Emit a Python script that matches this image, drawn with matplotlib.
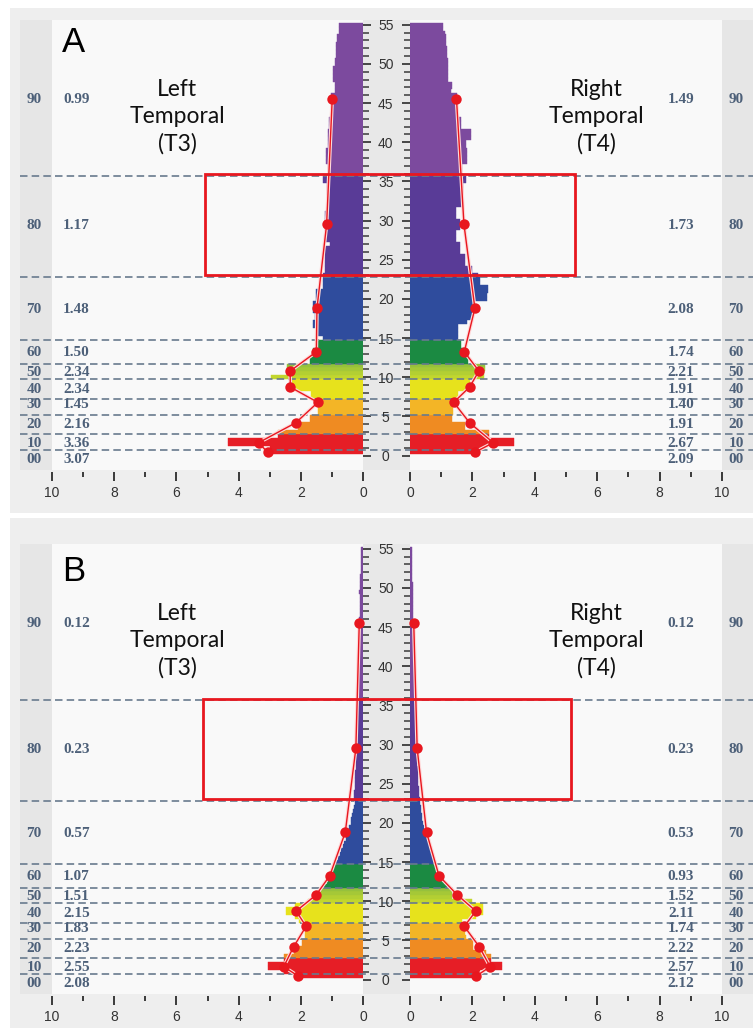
import numpy as np
import matplotlib
matplotlib.use("Agg")
import matplotlib.pyplot as plt
import matplotlib.transforms as mtransforms
import matplotlib.patheffects as pe
from matplotlib.patches import Rectangle
from matplotlib.colors import to_rgb

# 0.5 Hz frequency bins, centres 0.5 .. 55 Hz
freqs = np.arange(0.5, 55.01, 0.5)

bands = ["00", "10", "20", "30", "40", "50", "60", "70", "80", "90"]
band_edges = [0.25, 0.75, 2.75, 5.25, 7.25, 9.75, 11.75, 14.75, 22.75, 35.75, 55.25]
band_colors = ["#e61e26", "#e61e26", "#ef8b22", "#f3b526", "#e7e21c",
               "#b3cc33", "#1b8a42", "#2f4c9d", "#593b97", "#7c4a9e"]
dot_freqs = [0.45, 1.65, 4.2, 6.8, 8.75, 10.8, 13.25, 18.8, 29.5, 45.5]
label_freqs = [-0.5, 1.5, 4.0, 6.5, 8.5, 10.6, 13.1, 18.7, 29.4, 45.4]

# ---- panel A spectra (one value per bin, grouped by band) ----
a_left = [
    3.05,
    3.0, 4.33, 4.33, 2.73,
    2.72, 2.1, 2.1, 1.7, 1.7,
    1.44, 1.44, 1.44, 1.44,
    1.67, 1.67, 2.35, 2.35, 2.35,
    2.96, 2.45, 2.45, 2.45,
    1.7, 1.7, 1.6, 1.6, 1.49, 1.49,
    1.3, 1.49, 1.49, 1.61, 1.61, 1.53, 1.53, 1.62, 1.62, 1.62, 1.5, 1.5, 1.5, 1.29, 1.29, 1.29,
    1.3, 1.23, 1.23, 1.23, 1.23, 1.23, 1.23, 1.23, 1.07, 1.23, 1.23, 1.23, 1.23, 1.23, 1.23, 1.23,
    1.23, 1.14, 1.14, 1.14, 1.14, 1.17, 1.17, 1.17, 1.28, 1.28,
    1.14, 1.14, 1.14, 1.2, 1.2, 1.2, 1.2, 1.14, 1.14, 1.14, 1.14, 1.14, 1.08, 1.08, 1.08,
    1.04, 1.04, 1.04, 1.04, 1.04, 1.04, 0.89, 0.89, 0.89, 0.98, 0.98, 0.98, 0.98, 0.91, 0.91,
    0.86, 0.86, 0.86, 0.86, 0.82, 0.82, 0.76, 0.76, 0.76,
]
a_right = [
    2.1,
    2.35, 3.33, 3.33, 2.54,
    2.54, 1.76, 1.76, 1.34, 1.34,
    1.38, 1.38, 1.38, 1.38,
    1.55, 1.55, 1.92, 1.92, 1.92,
    2.37, 2.37, 2.4, 2.4,
    1.87, 1.87, 1.76, 1.76, 1.62, 1.62,
    1.55, 1.55, 1.55, 1.55, 1.84, 2.03, 2.03, 2.03, 2.03, 2.03, 2.46, 2.46, 2.51, 2.51, 2.24, 2.24,
    2.19, 2.0, 2.0, 1.76, 1.76, 1.76, 1.6, 1.6, 1.6, 1.47, 1.47, 1.47, 1.6, 1.6, 1.6, 1.47,
    1.47, 1.47, 1.69, 1.69, 1.69, 1.69, 1.69, 1.69, 1.78, 1.78,
    1.67, 1.67, 1.67, 1.84, 1.84, 1.84, 1.84, 1.78, 1.78, 1.94, 1.94, 1.94, 1.62, 1.62, 1.62,
    1.52, 1.52, 1.52, 1.52, 1.52, 1.52, 1.3, 1.34, 1.34, 1.23, 1.23, 1.21, 1.21, 1.21, 1.21,
    1.18, 1.18, 1.18, 1.14, 1.14, 1.14, 1.12, 1.07, 1.07,
]
a_left_mean = [3.07, 3.36, 2.16, 1.45, 2.34, 2.34, 1.50, 1.48, 1.17, 0.99]
a_right_mean = [2.09, 2.67, 1.91, 1.40, 1.91, 2.21, 1.74, 2.08, 1.73, 1.49]

# ---- panel B spectra ----
b_left = [
    2.1,
    2.55, 3.04, 3.04, 2.54,
    2.54, 2.21, 2.21, 1.97, 1.97,
    1.87, 1.87, 1.87, 1.87,
    2.05, 2.19, 2.49, 2.49, 2.2,
    1.76, 1.62, 1.5, 1.4,
    1.25, 1.17, 1.1, 1.04, 0.98, 0.92,
    0.88, 0.8, 0.74, 0.7, 0.65, 0.6, 0.56, 0.52, 0.48, 0.44, 0.4, 0.37, 0.34, 0.31, 0.28, 0.26,
    0.3, 0.29, 0.28, 0.27, 0.27, 0.26, 0.25, 0.25, 0.24, 0.24, 0.23, 0.23, 0.22, 0.22, 0.22, 0.21,
    0.21, 0.21, 0.2, 0.2, 0.2, 0.19, 0.19, 0.19, 0.18, 0.18,
    0.17, 0.17, 0.16, 0.16, 0.16, 0.15, 0.15, 0.15, 0.15, 0.14, 0.14, 0.14, 0.14, 0.13, 0.13,
    0.13, 0.13, 0.12, 0.12, 0.12, 0.12, 0.11, 0.11, 0.11, 0.1, 0.1, 0.1, 0.12, 0.1, 0.09,
    0.09, 0.09, 0.08, 0.08, 0.08, 0.08, 0.07, 0.07, 0.07,
]
b_right = [
    2.15,
    2.24, 2.94, 2.94, 2.59,
    2.59, 2.45, 2.03, 2.03, 2.03,
    1.8, 1.75, 1.7, 1.7,
    1.66, 2.1, 2.33, 2.33, 2.33,
    1.98, 1.34, 1.34, 1.34,
    1.17, 1.1, 0.85, 0.83, 0.82, 0.8,
    0.78, 0.74, 0.7, 0.66, 0.62, 0.58, 0.55, 0.52, 0.49, 0.46, 0.43, 0.4, 0.38, 0.36, 0.34, 0.32,
    0.31, 0.3, 0.29, 0.28, 0.27, 0.26, 0.26, 0.25, 0.25, 0.24, 0.24, 0.23, 0.23, 0.22, 0.22, 0.21,
    0.21, 0.21, 0.2, 0.2, 0.2, 0.19, 0.19, 0.18, 0.18, 0.18,
    0.18, 0.17, 0.17, 0.16, 0.16, 0.15, 0.15, 0.15, 0.14, 0.14, 0.14, 0.16, 0.13, 0.13, 0.13,
    0.13, 0.12, 0.12, 0.12, 0.12, 0.11, 0.11, 0.11, 0.11, 0.1, 0.1, 0.1, 0.09, 0.09, 0.09,
    0.08, 0.08, 0.08, 0.07, 0.07, 0.07, 0.06, 0.06, 0.06,
]
b_left_mean = [2.08, 2.55, 2.23, 1.83, 2.15, 1.51, 1.07, 0.57, 0.23, 0.12]
b_right_mean = [2.12, 2.57, 2.22, 1.74, 2.11, 1.52, 0.93, 0.53, 0.23, 0.12]

W, H = 753, 1028
fig = plt.figure(figsize=(W / 100, H / 100), dpi=100)
fig.patch.set_facecolor("white")

bg = fig.add_axes([0, 0, 1, 1], zorder=-5)
bg.set_xlim(0, W)
bg.set_ylim(H, 0)
bg.axis("off")

label_col = "#4d6079"
tick_col = "#3a3a3a"
red = "#e8171f"

# bin colours from band membership (yellow-green band drawn as a soft gradient)
band_idx = np.searchsorted(band_edges, freqs) - 1
bin_colors = []
for f, b in zip(freqs, band_idx):
    if bands[b] == "50":
        t = (f - band_edges[5]) / (band_edges[6] - band_edges[5])
        c0, c1 = np.array(to_rgb("#c9d92c")), np.array(to_rgb("#8fbd3e"))
        bin_colors.append(tuple(c0 + (c1 - c0) * t))
    else:
        bin_colors.append(band_colors[b])


def draw_panel(letter, top, frame_top, frame_bot, letter_top,
               left_vals, right_vals, left_mean, right_mean, box):
    bg.add_patch(Rectangle((10, frame_top), 743, frame_bot - frame_top, color="#eeeeee", lw=0))
    bg.add_patch(Rectangle((52, top), 670, 450, color="#f9f9f9", lw=0))
    for x0, w, c in [(20, 32, "#e6e6e6"), (363, 47, "#e8e8e8"), (722, 31, "#e6e6e6")]:
        bg.add_patch(Rectangle((x0, top), w, 450, color=c, lw=0))

    ax_h = 451.7
    axL = fig.add_axes([52 / W, 1 - (top + ax_h) / H, 311 / W, ax_h / H])
    axR = fig.add_axes([410 / W, 1 - (top + ax_h) / H, 312 / W, ax_h / H])
    for ax in (axL, axR):
        ax.set_facecolor("none")
        ax.set_ylim(-2.05, 55.6)
        for s in ax.spines.values():
            s.set_visible(False)
        ax.set_xticks(range(0, 11, 2))
        ax.set_xticks(range(1, 10, 2), minor=True)
        ax.set_yticks(range(0, 56, 5))
        ax.set_yticks(range(0, 56), minor=True)
        ax.tick_params(axis="x", which="major", direction="out", length=6.5, width=1.4,
                       color=tick_col, pad=4, labelsize=10, labelcolor="#333333")
        ax.tick_params(axis="x", which="minor", direction="out", length=3.5, width=1.4,
                       color=tick_col)
        ax.tick_params(axis="y", which="major", direction="out", length=6, width=1.3,
                       color=tick_col)
        ax.tick_params(axis="y", which="minor", direction="out", length=4.2, width=1.1,
                       color=tick_col)
        for lab in ax.get_xticklabels():
            lab.set_fontfamily("Liberation Sans")
    axL.set_xlim(10, 0)
    axR.set_xlim(0, 10)
    axL.yaxis.tick_right()
    axL.tick_params(axis="y", which="both", labelright=False, labelleft=False)
    axR.yaxis.tick_left()
    axR.tick_params(axis="y", which="major", labelleft=True, pad=11.5,
                    labelsize=10, labelcolor="#333333")
    for lab in axR.get_yticklabels():
        lab.set_horizontalalignment("center")
        lab.set_fontfamily("Liberation Sans")

    # bars
    axL.barh(freqs, left_vals, height=0.5, color=bin_colors, lw=0.3,
             edgecolor=bin_colors, zorder=2)
    axR.barh(freqs, right_vals, height=0.5, color=bin_colors, lw=0.3,
             edgecolor=bin_colors, zorder=2)

    # band boundaries
    for e in band_edges[1:-1]:
        axL.axhline(e, xmin=(20 - 52) / 311, xmax=(410 - 52) / 311, color="#687a8e",
                    lw=1.2, ls=(0, (4.5, 2.5)), clip_on=False, zorder=3)
        axR.axhline(e, xmin=0, xmax=(753 - 410) / 312, color="#687a8e",
                    lw=1.2, ls=(0, (4.5, 2.5)), clip_on=False, zorder=3)

    # band means: thin haloed line, solid dots
    halo = [pe.withStroke(linewidth=2.6, foreground="#ffd9d9")]
    for ax, means in ((axL, left_mean), (axR, right_mean)):
        ax.plot(means, dot_freqs, color=red, lw=1.0, zorder=5, clip_on=False,
                path_effects=halo)
        ax.plot(means, dot_freqs, ls="none", marker="o", ms=7.5, mec=red, mew=0,
                mfc=red, zorder=6, clip_on=False)

    # labels
    tL = mtransforms.blended_transform_factory(fig.transFigure, axL.transData)
    txt = dict(fontsize=11, fontweight="bold", color=label_col,
               fontfamily="Liberation Serif", va="center", transform=tL)
    for name, lf, lv, rv in zip(bands, label_freqs, left_mean, right_mean):
        fig.text(34 / W, lf, name, ha="center", **txt)
        fig.text(63 / W, lf, f"{lv:.2f}", ha="left", **txt)
        fig.text(694 / W, lf, f"{rv:.2f}", ha="right", **txt)
        fig.text(736 / W, lf, name, ha="center", **txt)

    fig.text(62 / W, 1 - letter_top / H, letter, fontsize=25, fontfamily="Liberation Sans",
             ha="left", va="top", color="black")
    tt = dict(fontsize=16.5, fontfamily="Lato", ha="center", va="center",
              linespacing=1.35, color="#111111")
    fig.text(177 / W, 1 - (top + 97) / H, "Left\nTemporal\n(T3)", **tt)
    fig.text(596 / W, 1 - (top + 97) / H, "Right\nTemporal\n(T4)", **tt)

    # highlighted range box spanning both sides
    lv, rv, f0, f1 = box
    inv = fig.transFigure.inverted()
    x0, y0 = inv.transform(axL.transData.transform((lv, f0)))
    x1, y1 = inv.transform(axR.transData.transform((rv, f1)))
    fig.add_artist(Rectangle((x0, y0), x1 - x0, y1 - y0, transform=fig.transFigure,
                             fill=False, ec=red, lw=2.0, zorder=10))


draw_panel("A", 20, 8, 513, 26, a_left, a_right, a_left_mean, a_right_mean,
           (5.08, 5.3, 23.05, 36.0))
draw_panel("B", 544, 518, 1028, 555, b_left, b_right, b_left_mean, b_right_mean,
           (5.15, 5.15, 23.0, 35.8))

fig.savefig("out.png", dpi=100)
